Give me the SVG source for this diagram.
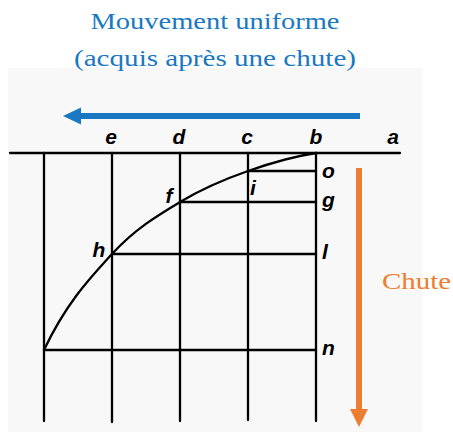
<svg xmlns="http://www.w3.org/2000/svg" width="453" height="432" viewBox="0 0 453 432">
<defs>
<style>
.ln{stroke:#000;stroke-width:2.3;fill:none;stroke-linecap:round}
.lb{font-family:"Liberation Sans",Arial,sans-serif;font-size:21px;font-weight:bold;font-style:italic;fill:#000}
.ti{font-family:"Liberation Serif","Times New Roman",serif;font-size:24px;fill:#1a78c2}
.ch{font-family:"Liberation Serif","Times New Roman",serif;font-size:24px;fill:#ed7d31}
</style>
</defs>
<rect id="background" x="8" y="68" width="414" height="364" fill="#f8f8f8"/>
<g id="title">
<text class="ti" x="215" y="29" text-anchor="middle" textLength="249" lengthAdjust="spacingAndGlyphs">Mouvement uniforme</text>
<text class="ti" x="215" y="66" text-anchor="middle" textLength="282" lengthAdjust="spacingAndGlyphs">(acquis après une chute)</text>
</g>
<g id="grid">
<line class="ln" x1="10" y1="153" x2="400" y2="153"/>
<line class="ln" x1="44" y1="153" x2="44" y2="421"/>
<line class="ln" x1="112" y1="153" x2="112" y2="422"/>
<line class="ln" x1="180" y1="153" x2="180" y2="421"/>
<line class="ln" x1="248" y1="153" x2="248" y2="420"/>
<line class="ln" x1="316" y1="153" x2="316" y2="421"/>
<line class="ln" x1="248" y1="171" x2="316" y2="171"/>
<line class="ln" x1="180" y1="202" x2="316" y2="202"/>
<line class="ln" x1="112" y1="254" x2="316" y2="254"/>
<line class="ln" x1="44" y1="350" x2="316" y2="350"/>
</g>
<g id="parabola">
<path class="ln" stroke-width="2.6" d="M316,153 C293.3,156.4 270.7,163.1 248,171 C225.3,178.9 202.7,188.4 180,202 C157.3,215.6 134.7,229.1 112,254 C89.3,278.9 66.7,302.4 44,350"/>
</g>
<g id="labels">
<text class="lb" x="111" y="144" text-anchor="middle">e</text>
<text class="lb" x="179" y="144" text-anchor="middle">d</text>
<text class="lb" x="247" y="144" text-anchor="middle">c</text>
<text class="lb" x="316" y="144" text-anchor="middle">b</text>
<text class="lb" x="393" y="144" text-anchor="middle">a</text>
<text class="lb" x="322" y="178">o</text>
<text class="lb" x="322" y="207">g</text>
<text class="lb" x="322" y="259">l</text>
<text class="lb" x="322" y="355">n</text>
<text class="lb" x="253" y="195" text-anchor="middle">i</text>
<text class="lb" x="169" y="203" text-anchor="middle">f</text>
<text class="lb" x="99" y="257" text-anchor="middle">h</text>
</g>
<g id="arrows">
<line x1="360" y1="116" x2="78" y2="116" stroke="#1a78c2" stroke-width="6"/>
<polygon points="63,116 81,107.5 81,124.5" fill="#1a78c2"/>
<line x1="359" y1="168" x2="359" y2="411" stroke="#ed7d31" stroke-width="6"/>
<polygon points="359,427 350,409 368,409" fill="#ed7d31"/>
</g>
<g id="chute">
<text class="ch" x="382" y="289" textLength="69" lengthAdjust="spacingAndGlyphs">Chute</text>
</g>
</svg>
